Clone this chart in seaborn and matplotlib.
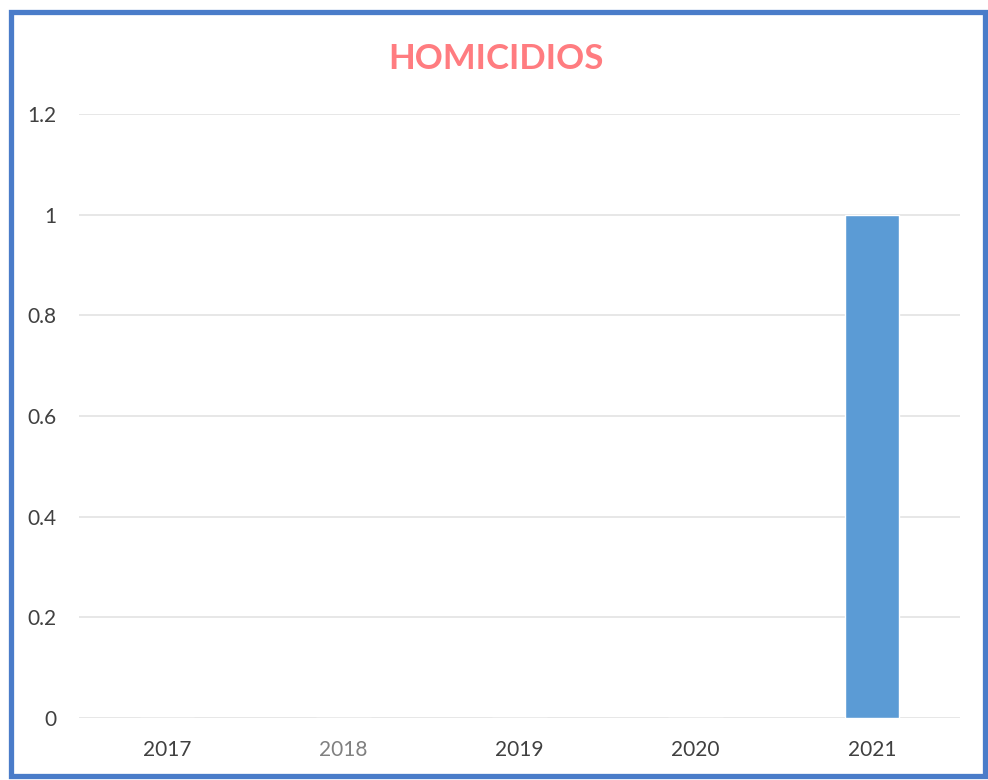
import matplotlib
matplotlib.use('Agg')
import matplotlib.pyplot as plt
import matplotlib.patches as mpatches
import seaborn as sns
import pandas as pd

# Dados do gráfico
anos = ['2017', '2018', '2019', '2020', '2021']
homicidios = [0, 0, 0, 0, 1]
y_ticks = [0, 0.2, 0.4, 0.6, 0.8, 1, 1.2]
y_labels = ['0', '0.2', '0.4', '0.6', '0.8', '1', '1.2']

sns.set_theme(style="white")
plt.rcParams['font.family'] = ['Lato', 'DejaVu Sans']

df = pd.DataFrame({'ano': anos, 'valor': homicidios})

fig = plt.figure(figsize=(9.88, 7.8), dpi=100)
ax = fig.add_axes([0.08, 0.0795, 0.8917, 0.7744])

# grade horizontal clara, atrás das barras
ax.set_axisbelow(True)
for yv in y_ticks:
    ax.axhline(yv, color='#E3E3E3', linewidth=1.2, zorder=0)

sns.barplot(data=df, x='ano', y='valor', color='#5B9BD5', width=0.31,
            saturation=1, ax=ax, zorder=2)

ax.set_ylim(0, 1.2)
ax.set_yticks(y_ticks)
ax.set_yticklabels(y_labels)
ax.set_xlim(-0.5, 4.5)
ax.set_xlabel('')
ax.set_ylabel('')
ax.tick_params(axis='both', length=0, labelsize=15, labelcolor='#404040')
ax.tick_params(axis='y', pad=16)
ax.tick_params(axis='x', pad=16)
ax.get_xticklabels()[1].set_color('#808080')
for s in ax.spines.values():
    s.set_visible(False)

fig.text(0.502, 0.924, 'HOMICIDIOS', ha='center', va='center',
         fontsize=25, fontweight='bold', color='#FF7C80')

# moldura azul em volta da figura
fig.patches.append(mpatches.Rectangle((0.011, 0.005), 0.986, 0.979,
                                      transform=fig.transFigure, fill=False,
                                      edgecolor='#4A7CC9', linewidth=3.8))

fig.savefig('out.png', dpi=100)
plt.close('all')
